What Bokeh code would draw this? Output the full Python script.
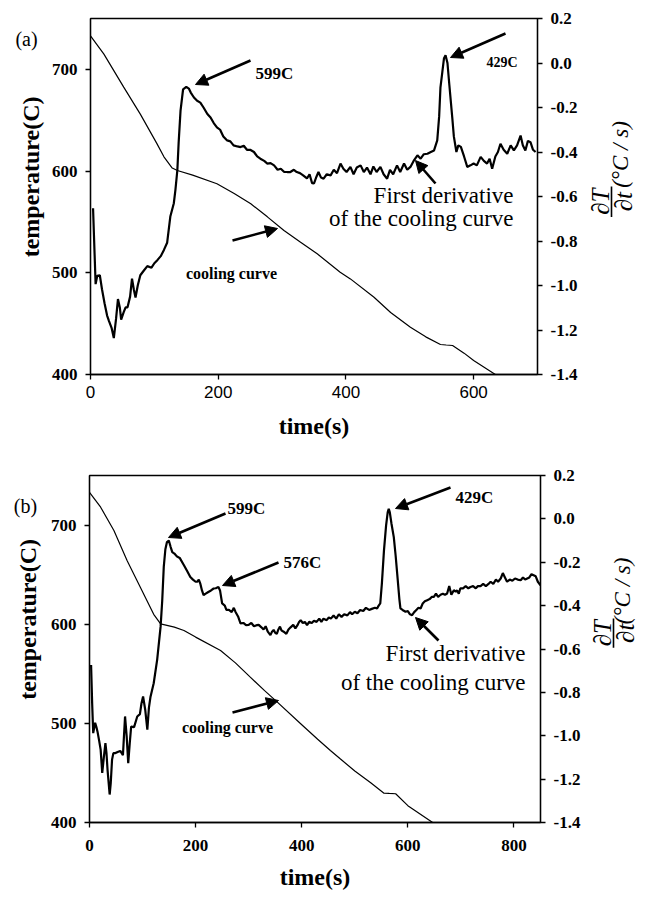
from bokeh.plotting import figure
from bokeh.models import (Range1d, LinearAxis, FixedTicker, PrintfTickFormatter,
                          Label, Arrow, NormalHead)
from bokeh.layouts import column, row
from bokeh.embed import file_html
from bokeh.resources import INLINE

# ---------------- data: panel (a) ----------------
a_cool_t = [0, 21, 52, 78, 104, 115, 128, 136, 160, 198, 225, 251, 277, 303, 329, 355, 391, 407,
            444, 470, 501, 525, 548, 557, 567, 585, 600, 634, 650]
a_cool_T = [733, 715, 682.5, 656, 627, 614, 603, 600.6, 596, 587.5, 578, 567.8, 555, 541.6, 530,
            518.7, 500.6, 494, 476, 461, 446.5, 437, 429.5, 429, 428.5, 421, 413.8, 400, 392]

a_der_t = [4, 8, 10.5, 14.6, 18, 22, 26, 29, 33, 36.5, 40, 43, 46, 48, 52, 55, 58, 62, 65, 68, 70.5,
           74, 78, 83, 89, 95.5, 100, 105, 110, 115, 120, 125, 130.5, 133, 136, 138, 141, 145, 150,
           154, 157, 162, 167, 172, 177, 183, 188, 193, 198, 203, 208, 214, 219, 224, 230, 235,
           240, 245, 250, 256, 261, 266, 272, 277, 282, 287.5, 293, 298, 303, 308, 313, 318.5,
           323, 328, 333, 339, 343, 347, 350, 354, 357, 361, 365, 370, 376, 381, 386, 391.5, 396,
           401, 407, 412, 417, 423, 428, 433, 438.5, 443, 448, 454, 459, 464.5, 469, 474, 480,
           485, 491, 496, 501, 506, 512, 517, 522, 527.6, 533, 538, 543, 546, 548, 551, 553.5,
           556, 559, 562, 566.5, 569, 573, 576, 580, 585, 590, 595, 600, 605, 611, 616, 621, 625,
           629, 634, 638, 642, 647, 652.6, 658, 663, 668, 673.5, 677, 681, 685, 689, 693, 697]
a_der_D = [-0.653, -0.994, -0.957, -0.954, -1.017, -1.08, -1.135, -1.16, -1.19, -1.236, -1.15,
           -1.061, -1.10, -1.153, -1.12, -1.098, -1.098, -1.05, -0.969, -1.02, -1.054, -1.0,
           -0.954, -0.935, -0.913, -0.92, -0.90, -0.885, -0.868, -0.84, -0.808, -0.69, -0.63,
           -0.57, -0.482, -0.36, -0.214, -0.118, -0.107, -0.115, -0.133, -0.155, -0.17, -0.178,
           -0.20, -0.229, -0.245, -0.27, -0.289, -0.30, -0.33, -0.348, -0.352, -0.37, -0.375,
           -0.378, -0.372, -0.39, -0.39, -0.40, -0.42, -0.43, -0.44, -0.452, -0.45, -0.46, -0.48,
           -0.475, -0.489, -0.49, -0.49, -0.48, -0.49, -0.495, -0.505, -0.519, -0.50, -0.54,
           -0.541, -0.51, -0.49, -0.515, -0.52, -0.50, -0.505, -0.48, -0.495, -0.452, -0.475,
           -0.49, -0.467, -0.50, -0.47, -0.46, -0.49, -0.47, -0.50, -0.465, -0.49, -0.467, -0.50,
           -0.52, -0.48, -0.50, -0.46, -0.49, -0.452, -0.48, -0.467, -0.44, -0.415, -0.43, -0.41,
           -0.408, -0.40, -0.393, -0.348, -0.24, -0.111, -0.04, 0.02, 0.035, 0.0, -0.10, -0.244,
           -0.33, -0.40, -0.37, -0.377, -0.42, -0.467, -0.46, -0.452, -0.46, -0.422, -0.44,
           -0.452, -0.43, -0.475, -0.42, -0.40, -0.363, -0.39, -0.408, -0.37, -0.393, -0.37,
           -0.326, -0.37, -0.393, -0.35, -0.356, -0.39, -0.40]

# ---------------- data: panel (b) ----------------
b_cool_t = [0, 21, 46, 71, 96, 121, 134, 160, 178, 200, 247, 275, 303, 330, 354, 398, 430, 454,
            473, 500, 530, 555, 565, 577, 600, 646, 660]
b_cool_T = [733, 718, 694.5, 664, 637, 610, 600.4, 597, 593.7, 587, 573.5, 561, 546.6, 533, 521.4,
            499.6, 484, 472.6, 464, 452, 440, 429.6, 429.3, 429, 417, 400.3, 393]

b_der_t = [3, 5, 7, 10.6, 13, 15, 18, 21, 24, 27, 30, 32, 34, 38, 40, 42.5, 45, 49, 53, 58, 63, 65,
           67, 70, 73, 76, 78.5, 84, 90, 95, 98, 101, 105, 109, 112, 115, 121, 127.5, 134, 137,
           140, 143, 146, 149.5, 153, 156, 160, 165, 170, 178, 184, 190, 195, 200, 203, 206, 209,
           212, 215, 219, 224, 229, 234, 238, 243, 246, 250, 255, 258, 262.8, 268, 272, 275, 280,
           284.6, 290, 295, 300, 305, 310, 315, 319, 324, 328, 332, 336, 341, 344, 347, 350, 353,
           356, 359, 362, 366, 371, 375, 379, 384, 388, 392, 395, 398, 402, 406, 410, 414, 419,
           423, 428, 433, 437, 441, 447, 451, 455, 460, 465, 470, 475, 480, 486, 491, 495, 500,
           505, 510, 516, 521, 527, 532, 538, 542, 545, 548, 551, 555, 559, 562, 564, 566, 569,
           573.5, 577, 581, 584, 586, 590, 595.6, 600, 604, 608, 612, 616, 620, 624, 628, 632,
           636.5, 641, 645, 649, 653, 657, 661.6, 666, 670, 674, 678, 682, 686.7, 690, 693, 696,
           699, 704, 709, 714, 718, 723, 728, 732, 737, 742, 747, 752, 756, 761, 766, 770, 775,
           779, 783, 787, 792, 797, 802, 807, 812.6, 817, 821, 825, 829, 833, 837, 841, 845, 848,
           850]
b_der_D = [-0.674, -0.85, -0.988, -0.94, -0.96, -0.98, -1.02, -1.064, -1.171, -1.10, -1.034,
           -1.08, -1.157, -1.271, -1.22, -1.11, -1.08, -1.08, -1.075, -1.07, -1.09, -1.0, -0.911,
           -1.0, -1.126, -1.03, -0.958, -0.96, -0.911, -0.90, -0.85, -0.819, -0.88, -0.972, -0.87,
           -0.82, -0.758, -0.65, -0.497, -0.38, -0.22, -0.14, -0.107, -0.10, -0.13, -0.153, -0.16,
           -0.174, -0.18, -0.214, -0.24, -0.268, -0.28, -0.29, -0.29, -0.28, -0.30, -0.33, -0.352,
           -0.345, -0.337, -0.33, -0.321, -0.32, -0.314, -0.33, -0.39, -0.40, -0.42, -0.42, -0.43,
           -0.41, -0.428, -0.45, -0.482, -0.48, -0.49, -0.489, -0.48, -0.495, -0.49, -0.489, -0.50,
           -0.51, -0.495, -0.52, -0.536, -0.52, -0.512, -0.525, -0.53, -0.51, -0.497, -0.515,
           -0.52, -0.53, -0.51, -0.50, -0.489, -0.505, -0.49, -0.475, -0.467, -0.48, -0.475, -0.49,
           -0.475, -0.48, -0.47, -0.475, -0.46, -0.475, -0.46, -0.467, -0.455, -0.46, -0.445,
           -0.46, -0.44, -0.452, -0.44, -0.445, -0.43, -0.44, -0.428, -0.435, -0.42, -0.425,
           -0.41, -0.42, -0.415, -0.41, -0.413, -0.40, -0.39, -0.30, -0.145, -0.03, 0.03, 0.047,
           0.03, -0.02, -0.084, -0.17, -0.284, -0.37, -0.413, -0.42, -0.428, -0.425, -0.44,
           -0.444, -0.43, -0.42, -0.41, -0.413, -0.39, -0.38, -0.375, -0.37, -0.36, -0.36, -0.345,
           -0.36, -0.35, -0.345, -0.35, -0.344, -0.31, -0.35, -0.329, -0.335, -0.33, -0.345,
           -0.32, -0.32, -0.31, -0.32, -0.314, -0.31, -0.32, -0.31, -0.31, -0.30, -0.31, -0.30,
           -0.29, -0.30, -0.28, -0.29, -0.275, -0.25, -0.27, -0.29, -0.28, -0.285, -0.275, -0.28,
           -0.283, -0.27, -0.28, -0.275, -0.27, -0.255, -0.26, -0.265, -0.29, -0.30, -0.306]

temp_ticks = [400, 500, 600, 700]
deriv_ticks = [-1.4, -1.2, -1.0, -0.8, -0.6, -0.4, -0.2, 0.0, 0.2]
a_time_ticks = [0, 200, 400, 600]
b_time_ticks = [0, 200, 400, 600, 800]

SERIF = "Liberation Serif"
SANS = "Liberation Sans"


def strip(width, height):
    """A blank figure whose frame is the whole canvas; data units = pixels (y up)."""
    s = figure(width=width, height=height, output_backend="svg", toolbar_location=None,
               x_range=Range1d(0, width), y_range=Range1d(0, height),
               min_border=0, background_fill_color="white", border_fill_color="white")
    s.axis.visible = False
    s.grid.visible = False
    s.outline_line_color = None
    return s


def make_panel(letter, ylab_pos, cool_t, cool_T, der_t, der_D, xmax, xticks, geom,
               xtick_font, xtick_style, annots, arrows, frac):
    LW, W, RW, H, bl, br, bt, bb, img_top = geom
    p = figure(width=W, height=H, output_backend="svg", toolbar_location=None,
               x_range=Range1d(0, xmax), y_range=Range1d(400, 750),
               min_border_left=bl, min_border_right=br, min_border_top=bt,
               min_border_bottom=bb, background_fill_color="white",
               border_fill_color="white")
    p.extra_y_ranges = {"d": Range1d(-1.4, 0.2)}
    p.grid.visible = False
    p.outline_line_color = "black"
    p.outline_line_width = 1.3

    # frame geometry in page pixels, used to place annotations
    fl = LW + bl
    fr = LW + W - br
    ft = img_top + bt
    fb = img_top + H - bb

    def at(px, py):
        return (0 + (px - fl) / (fr - fl) * xmax,
                400 + (fb - py) / (fb - ft) * 350)

    p.line(cool_t, cool_T, line_color="black", line_width=1.2)
    p.line(der_t, der_D, line_color="black", line_width=2.2, y_range_name="d")

    right = LinearAxis(y_range_name="d")
    p.add_layout(right, "right")

    for ax in p.axis:
        ax.axis_line_color = "black"
        ax.axis_line_width = 1.3
        ax.major_tick_line_color = "black"
        ax.major_tick_line_width = 1.3
        ax.major_tick_out = 5
        ax.major_tick_in = 0
        ax.minor_tick_line_color = None
        ax.major_label_text_color = "black"
        ax.major_label_text_font_size = "17px"
        ax.axis_label_text_color = "black"

    yl = p.yaxis[0]
    yl.ticker = FixedTicker(ticks=temp_ticks)
    yl.major_label_text_font = SERIF
    yl.major_label_text_font_style = "bold"
    yl.major_label_standoff = 8

    right.ticker = FixedTicker(ticks=deriv_ticks)
    right.formatter = PrintfTickFormatter(format="%.1f")
    right.major_label_text_font = SERIF
    right.major_label_text_font_style = "bold"
    right.major_label_standoff = 8

    xa = p.xaxis[0]
    xa.ticker = FixedTicker(ticks=xticks)
    xa.major_label_text_font = xtick_font
    xa.major_label_text_font_style = xtick_style
    xa.axis_label = "time(s)"
    xa.axis_label_text_font = SERIF
    xa.axis_label_text_font_style = "bold"
    xa.axis_label_text_font_size = "24px"

    for txt, px, py, align, size, style in annots:
        x, y = at(px, py)
        p.add_layout(Label(x=x, y=y, text=txt, text_font=SERIF, text_font_size=size,
                           text_font_style=style, text_align=align,
                           text_baseline="middle", text_color="black"))

    for (sx, sy, ex, ey) in arrows:
        x0, y0 = at(sx, sy)
        x1, y1 = at(ex, ey)
        p.add_layout(Arrow(x_start=x0, y_start=y0, x_end=x1, y_end=y1, line_width=2.6,
                           line_color="black",
                           end=NormalHead(size=12, fill_color="black", line_color="black",
                                          line_width=1)))

    # ---- left strip: panel letter and the temperature axis title ----
    ls = strip(LW, H)
    ls.add_layout(Label(x=letter[1][0], y=img_top + H - letter[1][1], text=letter[0],
                        text_font=SERIF, text_font_size="20px", text_color="black",
                        text_align="center", text_baseline="middle"))
    ls.add_layout(Label(x=ylab_pos[0], y=img_top + H - ylab_pos[1], text="temperature(C)",
                        text_font=SERIF, text_font_size="24px", text_font_style="bold",
                        text_color="black", angle=90, angle_units="deg",
                        text_align="center", text_baseline="middle"))

    # ---- right strip: dT/dt (°C / s) as a rotated fraction ----
    x_off = LW + W
    rs = strip(RW, H)
    (nx, cy), (bx, by0, by1), (dx,), (qx, qy) = frac
    for txt, px, py, size in (("∂T", nx, cy, "25px"), ("∂t", dx, cy, "25px"),
                              ("(°C / s)", qx, qy, "23px")):
        rs.add_layout(Label(x=px - x_off, y=img_top + H - py, text=txt,
                            text_font=SERIF, text_font_size=size, text_color="black",
                            text_font_style="italic", angle=90, angle_units="deg",
                            text_align="center", text_baseline="middle"))
    rs.add_layout(Arrow(x_start=bx - x_off, y_start=img_top + H - by0,
                        x_end=bx - x_off, y_end=img_top + H - by1,
                        line_width=1.6, line_color="black", end=None))
    return row(ls, p, rs, spacing=0)


pa = make_panel(
    ("(a)", (26, 26)), (30, 198), a_cool_t, a_cool_T, a_der_t, a_der_D, 700, a_time_ticks,
    (46, 536, 66, 445, 44, 45, 18, 71, 0), SANS, "normal",
    [("599C", 255, 73, "left", "17px", "bold"),
     ("429C", 517, 62, "right", "14px", "bold"),
     ("First derivative", 513, 195, "right", "23px", "normal"),
     ("of the cooling curve", 513, 218, "right", "23px", "normal"),
     ("cooling curve", 231, 273, "center", "16px", "bold")],
    [(250, 60, 195, 84), (505, 33, 450, 57), (435, 183, 415, 160), (232, 240, 277, 228)],
    ((600, 229), (611, 210, 248), (623,), (620, 170)))

pb = make_panel(
    ("(b)", (25, 485)), (27, 632), b_cool_t, b_cool_T, b_der_t, b_der_D, 850, b_time_ticks,
    (46, 538, 64, 451, 43, 44, 30, 74, 445), SERIF, "bold",
    [("599C", 227, 508, "left", "17px", "bold"),
     ("576C", 283, 562, "left", "17px", "bold"),
     ("429C", 455, 497, "left", "17px", "bold"),
     ("First derivative", 525, 653, "right", "23px", "normal"),
     ("of the cooling curve", 525, 682, "right", "23px", "normal"),
     ("cooling curve", 227, 727, "center", "16px", "bold")],
    [(225, 513, 168, 537), (278, 562, 222, 585), (450, 487, 395, 508),
     (438, 640, 415, 617), (232, 712, 278, 700)],
    ((602, 650), (613, 631, 669), (625,), (622, 595)))

# x-axis label spacing per panel
pb.children[1].xaxis[0].major_label_standoff = 12
pb.children[1].xaxis[0].axis_label_standoff = 10
pa.children[1].xaxis[0].major_label_standoff = 6
pa.children[1].xaxis[0].axis_label_standoff = 12

layout = column(pa, pb, spacing=0)
open("out.html", "w").write(file_html(layout, INLINE))
